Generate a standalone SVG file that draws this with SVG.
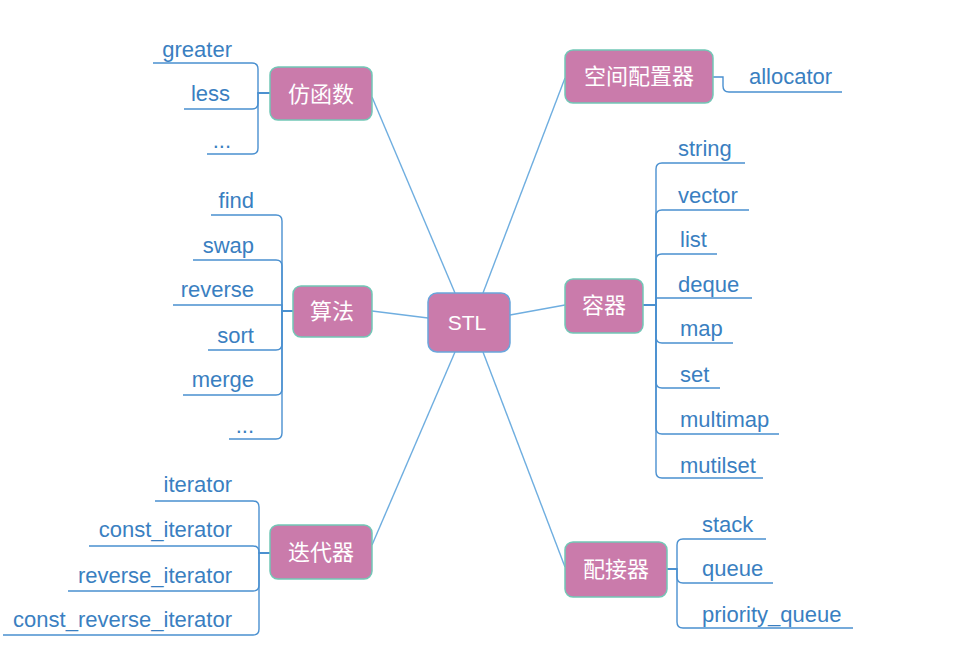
<svg xmlns="http://www.w3.org/2000/svg" width="980" height="657" viewBox="0 0 980 657">
<style>
.node{fill:#CA7BAB;stroke:#72C7B6;stroke-width:1.5}
.root{fill:#CA7BAB;stroke:#6AA6DC;stroke-width:1.5}
.ntxt{font-family:"Noto Sans CJK SC","Liberation Sans",sans-serif;font-size:22px;fill:#FFFFFF;text-anchor:middle}
.rtxt{font-family:"Liberation Sans",sans-serif;font-size:21px;fill:#FFFFFF;text-anchor:middle}
.leaf{font-family:"Liberation Sans",sans-serif;font-size:22px;fill:#3A7FC1}
.end{text-anchor:end}
.br{fill:none;stroke:#4A90D0;stroke-width:1.4}
.main{fill:none;stroke:#6FAEE0;stroke-width:1.4}
</style>
<rect width="980" height="657" fill="#FFFFFF"/>
<g id="connectors">
<path class="main" d="M455,293 L372,97"/>
<path class="main" d="M428,318 L372,311"/>
<path class="main" d="M455,352 L372,545"/>
<path class="main" d="M483,293 L565,78"/>
<path class="main" d="M510,315 L565,305"/>
<path class="main" d="M483,352 L565,567"/>
<path class="br" d="M270,93 H258 V69 Q258,63 252,63 H153"/>
<path class="br" d="M270,93 H258 V103 Q258,109 252,109 H184"/>
<path class="br" d="M270,93 H258 V148 Q258,154 252,154 H207"/>
<path class="br" d="M293,311 H282 V221 Q282,215 276,215 H211"/>
<path class="br" d="M293,311 H282 V266 Q282,260 276,260 H193"/>
<path class="br" d="M293,311 H282 V305 H173"/>
<path class="br" d="M293,311 H282 V344 Q282,350 276,350 H208"/>
<path class="br" d="M293,311 H282 V389 Q282,395 276,395 H183"/>
<path class="br" d="M293,311 H282 V433 Q282,439 276,439 H229"/>
<path class="br" d="M270,553 H259 V507 Q259,501 253,501 H155"/>
<path class="br" d="M270,553 H259 V552 Q259,546 253,546 H89"/>
<path class="br" d="M270,553 H259 V585 Q259,591 253,591 H68"/>
<path class="br" d="M270,553 H259 V629 Q259,635 253,635 H3"/>
<path class="br" d="M713,77 H723 V86 Q723,92 729,92 H842"/>
<path class="br" d="M643,305 H656 V169 Q656,163 662,163 H745"/>
<path class="br" d="M643,305 H656 V216 Q656,210 662,210 H749"/>
<path class="br" d="M643,305 H656 V260 Q656,254 662,254 H717"/>
<path class="br" d="M643,305 H656 V298 H752"/>
<path class="br" d="M643,305 H656 V337 Q656,343 662,343 H733"/>
<path class="br" d="M643,305 H656 V382 Q656,388 662,388 H720"/>
<path class="br" d="M643,305 H656 V428 Q656,434 662,434 H779"/>
<path class="br" d="M643,305 H656 V472 Q656,478 662,478 H763"/>
<path class="br" d="M667,569 H677 V545 Q677,539 683,539 H766"/>
<path class="br" d="M667,569 H677 V577 Q677,583 683,583 H773"/>
<path class="br" d="M667,569 H677 V622 Q677,628 683,628 H853"/>
</g>
<g id="stl">
<rect class="root" x="428" y="293" width="82" height="59" rx="9"/>
<text class="rtxt" x="467" y="330">STL</text>
</g>
<g id="fanghanshu">
<rect class="node" x="270" y="67" width="102" height="53" rx="8"/>
<text class="ntxt" x="321" y="102">仿函数</text>
<text class="leaf end" x="232" y="57">greater</text>
<text class="leaf end" x="230" y="101">less</text>
<text class="leaf end" x="231" y="148">...</text>
</g>
<g id="suanfa">
<rect class="node" x="293" y="286" width="79" height="51" rx="8"/>
<text class="ntxt" x="332" y="319">算法</text>
<text class="leaf end" x="254" y="208">find</text>
<text class="leaf end" x="254" y="253">swap</text>
<text class="leaf end" x="254" y="297">reverse</text>
<text class="leaf end" x="254" y="343">sort</text>
<text class="leaf end" x="254" y="387">merge</text>
<text class="leaf end" x="254" y="433">...</text>
</g>
<g id="diedaiqi">
<rect class="node" x="270" y="525" width="102" height="54" rx="8"/>
<text class="ntxt" x="321" y="560">迭代器</text>
<text class="leaf end" x="232" y="492">iterator</text>
<text class="leaf end" x="232" y="537">const_iterator</text>
<text class="leaf end" x="232" y="583">reverse_iterator</text>
<text class="leaf end" x="232" y="627">const_reverse_iterator</text>
</g>
<g id="kongjianpeizhiqi">
<rect class="node" x="565" y="50" width="148" height="53" rx="8"/>
<text class="ntxt" x="639" y="84">空间配置器</text>
<text class="leaf" x="749" y="84">allocator</text>
</g>
<g id="rongqi">
<rect class="node" x="565" y="279" width="78" height="54" rx="8"/>
<text class="ntxt" x="604" y="313">容器</text>
<text class="leaf" x="678" y="156">string</text>
<text class="leaf" x="678" y="203">vector</text>
<text class="leaf" x="680" y="247">list</text>
<text class="leaf" x="678" y="292">deque</text>
<text class="leaf" x="680" y="336">map</text>
<text class="leaf" x="680" y="382">set</text>
<text class="leaf" x="680" y="427">multimap</text>
<text class="leaf" x="680" y="473">mutilset</text>
</g>
<g id="peijieqi">
<rect class="node" x="565" y="542" width="102" height="55" rx="8"/>
<text class="ntxt" x="616" y="577">配接器</text>
<text class="leaf" x="702" y="532">stack</text>
<text class="leaf" x="702" y="576">queue</text>
<text class="leaf" x="702" y="622">priority_queue</text>
</g>
</svg>
